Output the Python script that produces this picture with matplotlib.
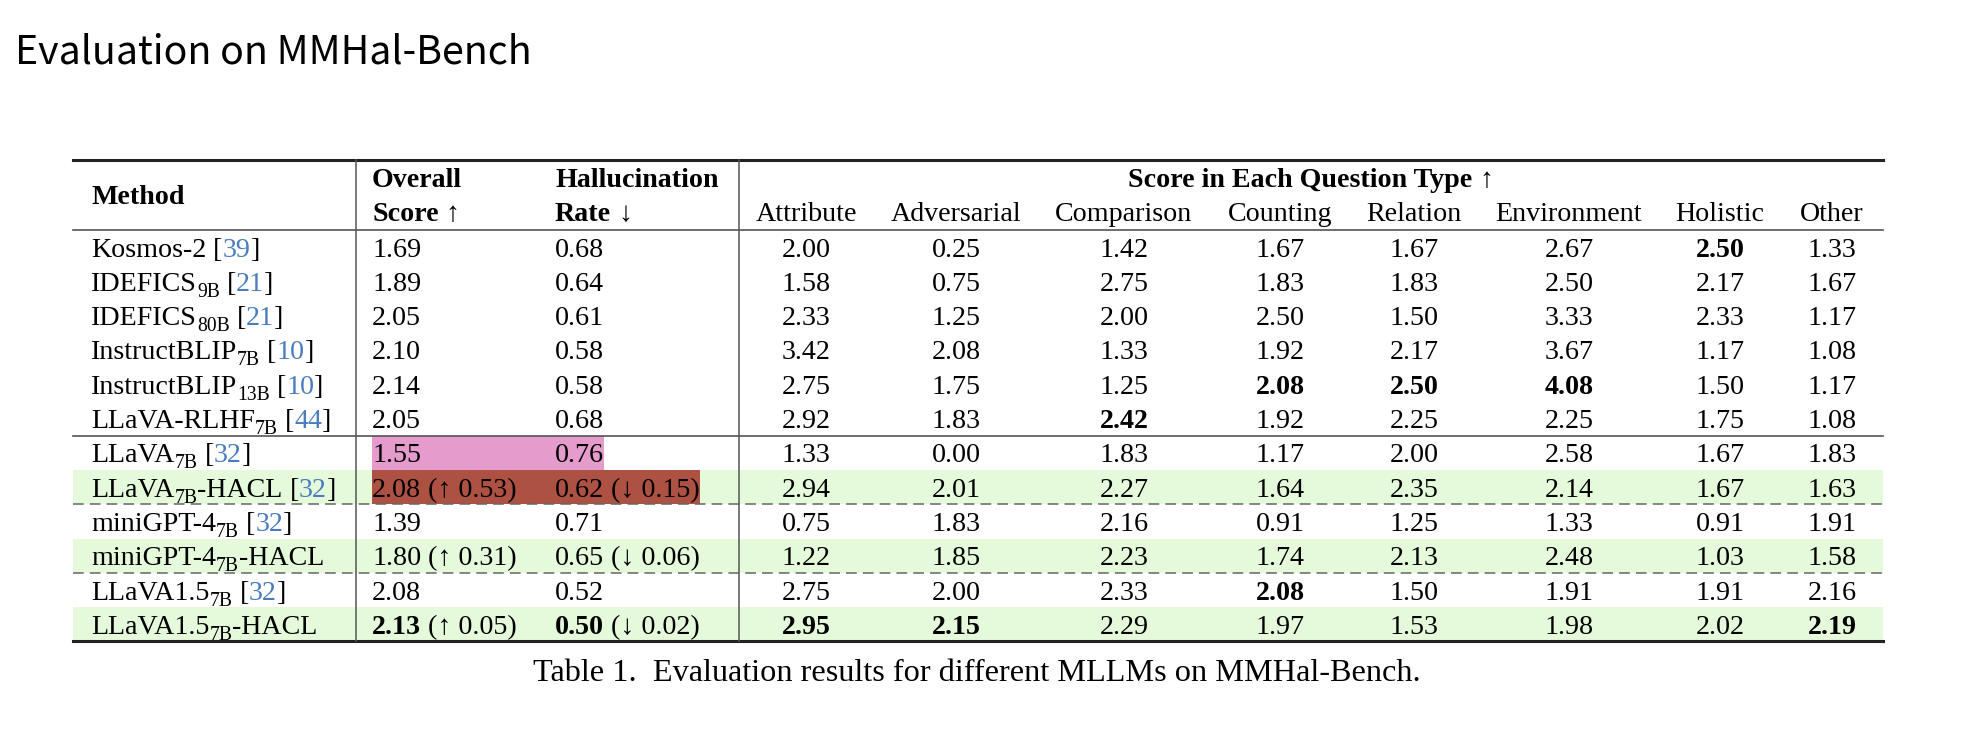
import matplotlib
matplotlib.use("Agg")
import matplotlib.pyplot as plt
from matplotlib.patches import Rectangle

W, H = 1968, 740

# ---- data ----
methods = [
    ("Kosmos-2", "", "", "39"),
    ("IDEFICS", "9B", "", "21"),
    ("IDEFICS", "80B", "", "21"),
    ("InstructBLIP", "7B", "", "10"),
    ("InstructBLIP", "13B", "", "10"),
    ("LLaVA-RLHF", "7B", "", "44"),
    ("LLaVA", "7B", "", "32"),
    ("LLaVA", "7B", "-HACL", "32"),
    ("miniGPT-4", "7B", "", "32"),
    ("miniGPT-4", "7B", "-HACL", ""),
    ("LLaVA1.5", "7B", "", "32"),
    ("LLaVA1.5", "7B", "-HACL", ""),
]
overall = [1.69, 1.89, 2.05, 2.10, 2.14, 2.05, 1.55, 2.08, 1.39, 1.80, 2.08, 2.13]
overall_delta = [None, None, None, None, None, None, None, 0.53, None, 0.31, None, 0.05]
halluc = [0.68, 0.64, 0.61, 0.58, 0.58, 0.68, 0.76, 0.62, 0.71, 0.65, 0.52, 0.50]
halluc_delta = [None, None, None, None, None, None, None, 0.15, None, 0.06, None, 0.02]

qtypes = ["Attribute", "Adversarial", "Comparison", "Counting",
          "Relation", "Environment", "Holistic", "Other"]
scores = [
    [2.00, 0.25, 1.42, 1.67, 1.67, 2.67, 2.50, 1.33],
    [1.58, 0.75, 2.75, 1.83, 1.83, 2.50, 2.17, 1.67],
    [2.33, 1.25, 2.00, 2.50, 1.50, 3.33, 2.33, 1.17],
    [3.42, 2.08, 1.33, 1.92, 2.17, 3.67, 1.17, 1.08],
    [2.75, 1.75, 1.25, 2.08, 2.50, 4.08, 1.50, 1.17],
    [2.92, 1.83, 2.42, 1.92, 2.25, 2.25, 1.75, 1.08],
    [1.33, 0.00, 1.83, 1.17, 2.00, 2.58, 1.67, 1.83],
    [2.94, 2.01, 2.27, 1.64, 2.35, 2.14, 1.67, 1.63],
    [0.75, 1.83, 2.16, 0.91, 1.25, 1.33, 0.91, 1.91],
    [1.22, 1.85, 2.23, 1.74, 2.13, 2.48, 1.03, 1.58],
    [2.75, 2.00, 2.33, 2.08, 1.50, 1.91, 1.91, 2.16],
    [2.95, 2.15, 2.29, 1.97, 1.53, 1.98, 2.02, 2.19],
]
# (row, column) of bold entries in the score block
bold_cells = [(0, 6), (4, 3), (4, 4), (4, 5), (5, 2), (10, 3),
              (11, 0), (11, 1), (11, 7)]
bold_main = [11]          # rows with bold overall / hallucination values
hacl_rows = [7, 9, 11]    # green rows
pink_row, brown_row = 6, 7

# ---- layout ----
SERIF = ["Liberation Serif", "DejaVu Serif"]
FS = 20.2                 # pt, ~28 px
PX = FS * 100 / 72
SP = 0.25 * PX
BASE = 0.34 * PX          # baseline below visual centre
CITE = "#4a7dc0"
left, right = 73, 1883
vline1, vline2 = 356, 739
col_overall, col_hal = 372, 555
q_centers = [806, 956, 1124, 1280, 1414, 1569, 1720, 1832]
top_rule = 160
head1, head2 = 177, 211
row0, pitch = 247, 34.3

fig = plt.figure(figsize=(W / 100, H / 100), dpi=100)
ax = fig.add_axes([0, 0, 1, 1])
ax.set_xlim(0, W)
ax.set_ylim(H, 0)
ax.axis("off")
rend = fig.canvas.get_renderer()


def run(x, y, parts, ha="left", size=FS, z=3):
    objs = []
    cur = 0.0
    for s, st in parts:
        if s == " ":
            cur += SP * size / FS
            continue
        fs = size * 0.7 if st == "s" else size
        dy = 6 if st == "s" else 0
        t = ax.text(cur, y + dy, s, fontsize=fs, family=SERIF,
                    fontweight="bold" if st == "b" else "normal",
                    color=CITE if st == "c" else "black",
                    va="baseline", ha="left", zorder=z)
        w = t.get_window_extent(renderer=rend).width
        objs.append((t, cur))
        cur += w
    off = x - cur / 2 if ha == "center" else x
    for t, cx in objs:
        t.set_x(off + cx)
    return off, off + cur


def ry(i):
    return row0 + pitch * i


# title
ax.text(15, 63, "Evaluation on MMHal-Bench", fontsize=28.3,
        family=["Noto Sans CJK SC", "DejaVu Sans"], va="baseline", ha="left")

# header
run(91, (head1 + head2) / 2 + BASE, [("Method", "b")])
run(col_overall, head1 + BASE, [("Overall", "b")])
run(col_overall, head2 + BASE, [("Score", "b"), (" ", "n"), ("\u2191", "n")])
run(col_hal, head1 + BASE, [("Hallucination", "b")])
run(col_hal, head2 + BASE, [("Rate", "b"), (" ", "n"), ("\u2193", "n")])
run((vline2 + right) / 2, head1 + BASE,
    [("Score in Each Question Type", "b"), (" ", "n"), ("\u2191", "n")], ha="center")
for q, cx in zip(qtypes, q_centers):
    run(cx, head2 + BASE, [(q, "n")], ha="center")

# body
for i, (base, sub, tail, ref) in enumerate(methods):
    y = ry(i) + BASE
    parts = [(base, "n")]
    if sub:
        parts.append((sub, "s"))
    if tail:
        parts.append((tail, "n"))
    if ref:
        parts += [(" ", "n"), ("[", "n"), (ref, "c"), ("]", "n")]
    run(91, y, parts)

    st = "b" if i in bold_main else "n"
    p = [("%.2f" % overall[i], st)]
    if overall_delta[i] is not None:
        p += [(" ", "n"), ("(\u2191 %.2f)" % overall_delta[i], "n")]
    x0, _ = run(col_overall, y, p)
    p = [("%.2f" % halluc[i], st)]
    if halluc_delta[i] is not None:
        p += [(" ", "n"), ("(\u2193 %.2f)" % halluc_delta[i], "n")]
    _, x1 = run(col_hal, y, p)

    if i == pink_row:
        ax.add_patch(Rectangle((x0, ry(i) - pitch / 2), x1 - x0, pitch,
                               color="#e59bcb", lw=0, zorder=1.5))
    if i == brown_row:
        ax.add_patch(Rectangle((x0, ry(i) - pitch / 2), x1 - x0, pitch,
                               color="#ad5142", lw=0, zorder=1.5))
    if i in hacl_rows:
        ax.add_patch(Rectangle((left, ry(i) - pitch / 2), right - left, pitch,
                               color="#e4fadb", lw=0, zorder=1))

    for j, v in enumerate(scores[i]):
        run(q_centers[j], y, [("%.2f" % v, "b" if (i, j) in bold_cells else "n")],
            ha="center")

# rules
bottom = ry(len(methods) - 1) + pitch / 2
head_rule = row0 - pitch / 2
ax.plot([left, right], [top_rule, top_rule], color="#222222", lw=2.2, zorder=4)
ax.plot([left, right], [bottom, bottom], color="#222222", lw=2.2, zorder=4)
ax.plot([left, right], [head_rule, head_rule], color="#555555", lw=1.2, zorder=4)
mid = (ry(5) + ry(6)) / 2
ax.plot([left, right], [mid, mid], color="#555555", lw=1.2, zorder=4)
for a, b in [(7, 8), (9, 10)]:
    yy = (ry(a) + ry(b)) / 2
    ax.plot([left, right], [yy, yy], color="#666666", lw=1.1,
            dashes=(7, 4), zorder=4)
for xv in [vline1, vline2]:
    ax.plot([xv, xv], [top_rule, bottom], color="#555555", lw=1.1, zorder=4)

# caption
run(977, 681, [("Table 1.  Evaluation results for different MLLMs on MMHal-Bench.", "n")],
    ha="center", size=23.2)

fig.savefig("out.png", dpi=100)
